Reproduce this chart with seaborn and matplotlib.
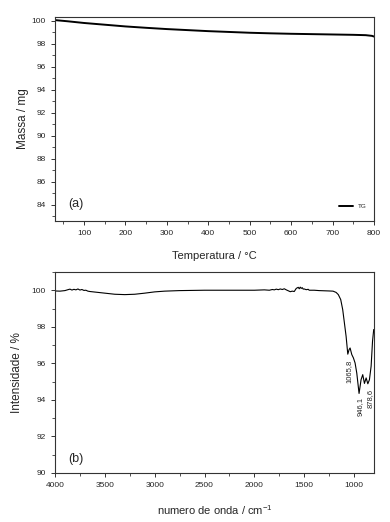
import matplotlib
matplotlib.use("Agg")
import matplotlib.pyplot as plt
from matplotlib.ticker import MultipleLocator
import numpy as np
import pandas as pd
import seaborn as sns

# (a) TG curve
tg_temp = [30, 60, 100, 150, 200, 250, 300, 350, 400, 450, 500, 550, 600, 650, 700, 750, 780, 795, 800]
tg_mass = [100.05, 99.95, 99.8, 99.65, 99.5, 99.38, 99.27, 99.18, 99.09, 99.02, 98.95, 98.9, 98.86, 98.83, 98.8, 98.77, 98.74, 98.68, 98.62]

# (b) IR spectrum, in the axis units shown in the picture
ir_wave = [4000, 3950, 3900, 3870, 3850, 3830, 3810, 3790, 3770, 3750, 3730, 3710, 3690, 3670,
           3650, 3600, 3500, 3400, 3300, 3200, 3100, 3000, 2900, 2750, 2500, 2250, 2000,
           1950, 1900, 1850, 1820, 1800, 1780, 1760, 1740, 1720, 1700, 1680, 1660, 1640,
           1620, 1600, 1580, 1560, 1550, 1540, 1530, 1520, 1510, 1500, 1480, 1460, 1450,
           1400, 1350, 1300, 1250, 1211, 1180, 1158, 1134, 1114, 1097, 1080, 1063, 1050,
           1040, 1023, 1007, 990, 973, 950, 930, 913, 896, 879, 862, 846, 829, 815, 803]
ir_int = [99.96, 99.95, 99.98, 100.03, 100.06, 100.01, 100.05, 100.02, 100.07, 100.01, 100.04, 99.99,
          100.0, 99.95, 99.93, 99.9, 99.84, 99.78, 99.76, 99.78, 99.84, 99.91, 99.95, 99.98, 100.0, 100.0, 100.0,
          100.01, 100.02, 100.0, 100.04, 100.02, 100.06, 100.03, 100.07, 100.04, 100.08, 100.02, 99.97, 99.92,
          99.95, 99.93, 100.1, 100.16, 100.08, 100.17, 100.1, 100.14, 100.06, 100.07, 100.03, 100.05, 100.0,
          100.0, 99.98, 99.97, 99.96, 99.95, 99.88, 99.76, 99.49, 98.94, 98.21, 97.48, 96.5, 96.75,
          96.84, 96.48, 96.3, 96.02, 95.47, 94.35, 95.1, 95.38, 94.9, 95.2, 94.88, 95.1, 95.84, 97.2, 97.85]

peak_labels = ["1065,8", "946,1", "878,6"]
peak_x = [1050, 940, 840]
peak_y = [95.55, 93.65, 94.1]

tg = pd.DataFrame({"temp": tg_temp, "mass": tg_mass})
ir = pd.DataFrame({"wave": ir_wave, "int": ir_int})

sns.set_style("ticks")
plt.rcParams["font.family"] = ["Liberation Sans", "DejaVu Sans"]
plt.rcParams["mathtext.fontset"] = "custom"
plt.rcParams["mathtext.rm"] = "Liberation Sans"
plt.rcParams["axes.linewidth"] = 0.8
plt.rcParams["axes.edgecolor"] = "#333333"

fig = plt.figure(figsize=(3.9, 5.22), dpi=100)
ax1 = fig.add_axes([0.141, 0.577, 0.818, 0.390])
ax2 = fig.add_axes([0.141, 0.094, 0.818, 0.385])

# panel (a)
sns.lineplot(data=tg, x="temp", y="mass", ax=ax1, color="black", lw=1.4, label="TG")
ax1.set_xlim(30, 800)
ax1.set_ylim(82.6, 100.3)
ax1.xaxis.set_major_locator(MultipleLocator(100))
ax1.xaxis.set_minor_locator(MultipleLocator(50))
ax1.yaxis.set_major_locator(MultipleLocator(2))
ax1.yaxis.set_minor_locator(MultipleLocator(1))
ax1.set_yticks(np.arange(84, 101, 2))
ax1.set_xlabel("Temperatura / °C", fontsize=8, labelpad=10)
ax1.set_ylabel("Massa / mg", fontsize=8.5, labelpad=2)
ax1.text(0.04, 0.07, "(a)", transform=ax1.transAxes, fontsize=9)
leg = ax1.legend(loc="lower right", frameon=False, fontsize=4.5, handlelength=2.2,
                 borderaxespad=0.8, bbox_to_anchor=(1.0, 0.02))

# panel (b)
sns.lineplot(data=ir, x="wave", y="int", ax=ax2, color="black", lw=0.8, sort=False)
ax2.set_xlim(4000, 800)
ax2.set_ylim(90, 101)
ax2.xaxis.set_major_locator(MultipleLocator(500))
ax2.xaxis.set_minor_locator(MultipleLocator(250))
ax2.set_xticks(np.arange(1000, 4001, 500))
ax2.set_yticks(np.arange(90, 101, 2))
ax2.yaxis.set_minor_locator(MultipleLocator(1))
ax2.set_xlabel("numero de onda / cm$^{-1}$", fontsize=8, labelpad=10)
ax2.set_ylabel("Intensidade / %", fontsize=8.5, labelpad=6)
ax2.text(0.04, 0.055, "(b)", transform=ax2.transAxes, fontsize=9)
for lab, px, py in zip(peak_labels, peak_x, peak_y):
    ax2.text(px, py, lab, rotation=90, fontsize=5.5, ha="center", va="center")

for ax in (ax1, ax2):
    for s in ax.spines.values():
        s.set_visible(True)
    ax.tick_params(which="major", labelsize=6, length=3, width=0.7, color="#333333")
    ax.tick_params(which="minor", length=2, width=0.6, color="#333333")

fig.savefig("out.png", dpi=100)
